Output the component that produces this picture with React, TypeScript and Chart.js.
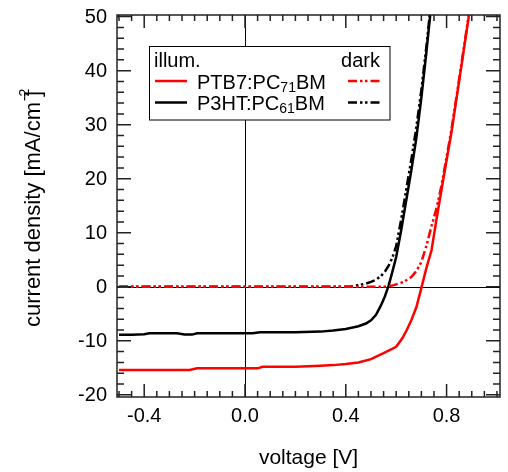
import React, { useEffect, useRef } from "react";
import { Chart, registerables } from "chart.js";

Chart.register(...registerables);

// ---- data ----
const V_PTB7_ILLUM = [-0.5, -0.4, -0.3, -0.22, -0.19, -0.1, 0.0, 0.05, 0.07, 0.2, 0.3, 0.35, 0.4, 0.45, 0.5, 0.55, 0.6, 0.625, 0.642, 0.66, 0.68, 0.7, 0.72, 0.74, 0.76, 0.78, 0.8, 0.82, 0.84, 0.86, 0.88, 0.889];
const J_PTB7_ILLUM = [-15.4, -15.4, -15.4, -15.4, -15.1, -15.1, -15.1, -15.1, -14.8, -14.8, -14.6, -14.5, -14.3, -14.0, -13.4, -12.3, -11.1, -9.5, -8.0, -6.2, -3.8, -0.2, 3.5, 6.7, 12.5, 18.0, 23.4, 28.8, 35.0, 41.2, 47.5, 50.3];

const V_PTB7_DARK = [-0.5, -0.2, 0.0, 0.2, 0.4, 0.55, 0.57, 0.59, 0.63, 0.66, 0.68, 0.7, 0.72, 0.74, 0.76, 0.78, 0.8, 0.82, 0.84, 0.86, 0.88, 0.888];
const J_PTB7_DARK = [0, 0, 0, 0, 0, 0, 0.1, 0.3, 0.9, 1.8, 2.9, 4.6, 7.6, 11.2, 14.5, 18.8, 24.0, 29.3, 35.4, 41.6, 47.8, 50.3];

const V_P3HT_ILLUM = [-0.5, -0.45, -0.4, -0.38, -0.3, -0.27, -0.24, -0.21, -0.19, -0.1, 0.0, 0.03, 0.06, 0.2, 0.3, 0.35, 0.4, 0.45, 0.48, 0.5, 0.52, 0.54, 0.555, 0.57, 0.585, 0.6, 0.62, 0.64, 0.66, 0.68, 0.7, 0.72, 0.735];
const J_P3HT_ILLUM = [-8.9, -8.9, -8.8, -8.6, -8.6, -8.6, -8.85, -8.85, -8.6, -8.6, -8.6, -8.6, -8.4, -8.4, -8.3, -8.1, -7.8, -7.3, -6.8, -6.2, -5.2, -3.4, -1.8, 0.2, 2.8, 5.5, 10.5, 16.0, 21.5, 27.5, 35.0, 43.5, 50.3];

const V_P3HT_DARK = [-0.5, -0.2, 0.0, 0.2, 0.4, 0.42, 0.45, 0.48, 0.5, 0.52, 0.54, 0.555, 0.57, 0.585, 0.6, 0.62, 0.64, 0.66, 0.68, 0.7, 0.72, 0.733];
const J_P3HT_DARK = [0, 0, 0, 0, 0, 0.05, 0.3, 0.6, 0.9, 1.3, 2.0, 2.8, 3.9, 5.4, 7.5, 12.5, 18.0, 23.5, 29.5, 36.5, 44.5, 50.3];

const X_TICK_LABELS = [-0.4, 0.0, 0.4, 0.8];
const Y_TICK_LABELS = [-20, -10, 0, 10, 20, 30, 40, 50];

const X_TITLE = "voltage [V]";
const Y_TITLE_MAIN = "current density [mA/cm";
const Y_TITLE_SUP = "-2";
const Y_TITLE_END = "]";

const LEGEND_ROWS = [
  { pre: "PTB7:PC", sub: "71", post: "BM", color: "#ff0000" },
  { pre: "P3HT:PC", sub: "61", post: "BM", color: "#000000" },
];

const FONT = "'Liberation Sans', Arial, Helvetica, sans-serif";
const DASH = [9, 3, 2.5, 2.5, 2.5, 3];

const pts = (xs: number[], ys: number[]) => xs.map((v, i) => ({ x: v, y: ys[i] }));

const customPlugin = {
  id: "customDecor",
  beforeDatasetsDraw(chart: any) {
    const { ctx, chartArea, scales } = chart;
    const { left, right, top, bottom } = chartArea;
    const xs = scales.x;
    const ys = scales.y;
    ctx.save();
    ctx.strokeStyle = "#000";
    ctx.lineWidth = 1;
    const x0 = Math.round(xs.getPixelForValue(0)) + 0.5;
    const y0 = Math.round(ys.getPixelForValue(0)) + 0.5;
    ctx.beginPath();
    ctx.moveTo(x0, top);
    ctx.lineTo(x0, bottom);
    ctx.moveTo(left, y0);
    ctx.lineTo(right, y0);
    ctx.stroke();
    ctx.restore();
  },
  afterDatasetsDraw(chart: any) {
    const { ctx, chartArea, scales } = chart;
    const { left, right, top, bottom } = chartArea;
    const xs = scales.x;
    const ys = scales.y;
    ctx.save();
    ctx.strokeStyle = "#222";
    ctx.lineWidth = 1.5;
    // frame
    ctx.strokeRect(left, top, right - left, bottom - top);
    // x ticks (inward, bottom & top)
    ctx.beginPath();
    for (let i = -10; i <= 20; i++) {
      const v = i * 0.05;
      const px = xs.getPixelForValue(v);
      if (px < left - 0.5 || px > right + 0.5) continue;
      const major = i % 8 === 0;
      const len = major ? 13 : 6;
      ctx.moveTo(px, bottom);
      ctx.lineTo(px, bottom - len);
      ctx.moveTo(px, top);
      ctx.lineTo(px, top + len);
    }
    // y ticks (inward, left & right)
    for (let j = -10; j <= 25; j++) {
      const v = j * 2;
      const py = ys.getPixelForValue(v);
      if (py < top - 0.5 || py > bottom + 0.5) continue;
      const major = v % 10 === 0;
      const len = major ? 14 : 7;
      ctx.moveTo(left, py);
      ctx.lineTo(left + len, py);
      ctx.moveTo(right, py);
      ctx.lineTo(right - len, py);
    }
    ctx.stroke();

    // tick labels
    ctx.fillStyle = "#000";
    ctx.font = `20px ${FONT}`;
    ctx.textAlign = "center";
    ctx.textBaseline = "alphabetic";
    X_TICK_LABELS.forEach((v) => {
      ctx.fillText(v.toFixed(1), xs.getPixelForValue(v), 422);
    });
    ctx.textAlign = "right";
    ctx.textBaseline = "middle";
    Y_TICK_LABELS.forEach((v) => {
      ctx.fillText(String(v), left - 10, ys.getPixelForValue(v) + 1);
    });

    // x title
    ctx.font = `21px ${FONT}`;
    ctx.textAlign = "center";
    ctx.textBaseline = "alphabetic";
    ctx.fillText(X_TITLE, (left + right) / 2, 464);

    // y title (rotated)
    ctx.save();
    ctx.translate(40, 327);
    ctx.rotate(-Math.PI / 2);
    ctx.textAlign = "left";
    ctx.font = `22px ${FONT}`;
    ctx.fillText(Y_TITLE_MAIN, 0, 0);
    const w1 = ctx.measureText(Y_TITLE_MAIN).width;
    ctx.font = `14px ${FONT}`;
    ctx.fillText(Y_TITLE_SUP, w1 + 1, -11);
    ctx.font = `22px ${FONT}`;
    ctx.fillText(Y_TITLE_END, w1 + 5, 0);
    ctx.restore();

    // legend
    const bx = 149.5, by = 46.5, bw = 240.5, bh = 73.5;
    ctx.fillStyle = "#fff";
    ctx.fillRect(bx, by, bw, bh);
    ctx.strokeStyle = "#000";
    ctx.lineWidth = 1;
    ctx.strokeRect(bx, by, bw, bh);
    ctx.fillStyle = "#000";
    ctx.font = `20px ${FONT}`;
    ctx.textBaseline = "alphabetic";
    ctx.textAlign = "left";
    ctx.fillText("illum.", 154, 67);
    ctx.textAlign = "right";
    ctx.fillText("dark", 380, 67);
    ctx.textAlign = "left";
    const rowY = [81, 102.5];
    LEGEND_ROWS.forEach((r, k) => {
      const ly = rowY[k];
      ctx.strokeStyle = r.color;
      ctx.lineWidth = 2.5;
      ctx.setLineDash([]);
      ctx.beginPath();
      ctx.moveTo(155, ly);
      ctx.lineTo(187, ly);
      ctx.stroke();
      ctx.setLineDash(DASH);
      ctx.beginPath();
      ctx.moveTo(348, ly);
      ctx.lineTo(380, ly);
      ctx.stroke();
      ctx.setLineDash([]);
      ctx.fillStyle = "#000";
      let tx = 197;
      const base = ly + 7.5;
      ctx.font = `20px ${FONT}`;
      ctx.fillText(r.pre, tx, base);
      tx += ctx.measureText(r.pre).width;
      ctx.font = `14px ${FONT}`;
      ctx.fillText(r.sub, tx, base + 3);
      tx += ctx.measureText(r.sub).width;
      ctx.font = `20px ${FONT}`;
      ctx.fillText(r.post, tx, base);
    });
    ctx.restore();
  },
};

export default function App() {
  const ref = useRef<HTMLCanvasElement | null>(null);
  useEffect(() => {
    document.body.style.margin = "0";
    const canvas = ref.current;
    if (!canvas) return;
    const chart = new Chart(canvas, {
      type: "line",
      data: {
        datasets: [
          {
            label: "PTB7:PC71BM illum.",
            data: pts(V_PTB7_ILLUM, J_PTB7_ILLUM),
            borderColor: "#ff0000",
            borderWidth: 2.5,
            pointRadius: 0,
            tension: 0,
          },
          {
            label: "PTB7:PC71BM dark",
            data: pts(V_PTB7_DARK, J_PTB7_DARK),
            borderColor: "#ff0000",
            borderWidth: 2.5,
            borderDash: DASH,
            pointRadius: 0,
            tension: 0,
          },
          {
            label: "P3HT:PC61BM illum.",
            data: pts(V_P3HT_ILLUM, J_P3HT_ILLUM),
            borderColor: "#000000",
            borderWidth: 2.5,
            pointRadius: 0,
            tension: 0,
          },
          {
            label: "P3HT:PC61BM dark",
            data: pts(V_P3HT_DARK, J_P3HT_DARK),
            borderColor: "#000000",
            borderWidth: 2.5,
            borderDash: DASH,
            pointRadius: 0,
            tension: 0,
          },
        ],
      },
      options: {
        responsive: false,
        animation: false,
        devicePixelRatio: 1,
        layout: { padding: { left: 117, top: 15, right: 8, bottom: 75 } },
        plugins: { legend: { display: false }, tooltip: { enabled: false } },
        scales: {
          x: { type: "linear", min: -0.508, max: 1.012, display: false },
          y: { type: "linear", min: -20.4, max: 50.3, display: false },
        },
      },
      plugins: [customPlugin],
    });
    return () => chart.destroy();
  }, []);
  return (
    <div style={{ width: 508, height: 472 }}>
      <canvas ref={ref} width={508} height={472} style={{ display: "block" }} />
    </div>
  );
}
